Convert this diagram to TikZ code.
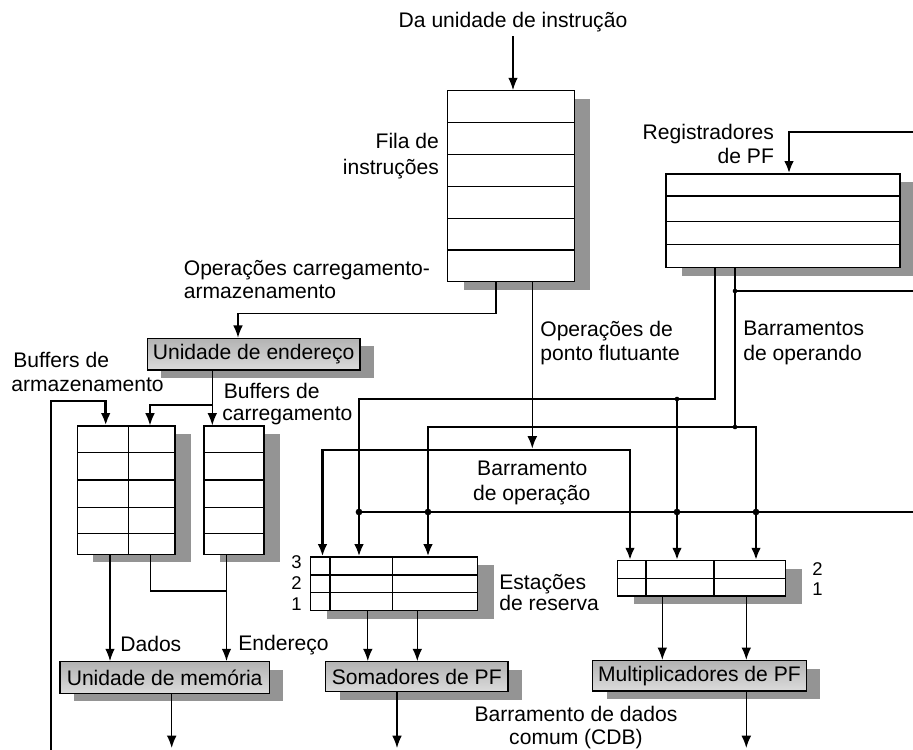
\documentclass[tikz,border=0pt]{standalone}
\usepackage{fontspec}
\setmainfont{Liberation Sans}
\usetikzlibrary{arrows.meta,shadows,fit}

\begin{document}
\begin{tikzpicture}[x=0.02cm, y=-0.02cm,
  font=\fontsize{12}{14}\selectfont,
  thin wire/.style={line width=0.75pt},
  bus wire/.style={line width=1.5pt},
  arrowed/.style={-{Latex[length=7pt,width=5.5pt]}},
  both tips/.style={{Latex[length=7pt,width=5.5pt]}-{Latex[length=7pt,width=5.5pt]}},
  small junction/.style={circle, fill=black, inner sep=0pt, minimum size=2.6pt},
  big junction/.style={circle, fill=black, inner sep=0pt, minimum size=3.8pt},
  regtable/.style={draw, line width=0.7pt, fill=white, inner sep=0pt,
    drop shadow={shadow xshift=0.32cm, shadow yshift=-0.16cm, fill=black!42, opacity=1}},
  unitbox/.style={draw, line width=0.7pt, inner sep=0pt, top color=black!30, bottom color=black!14,
    drop shadow={shadow xshift=0.28cm, shadow yshift=-0.16cm, fill=black!42, opacity=1}},
  rowline/.style={line width=0.7pt},
  txt/.style={inner sep=0pt},
  digit/.style={inner sep=0pt, font=\fontsize{10.5}{12}\selectfont},
]
\useasboundingbox (0,0) rectangle (913,750);

% ---------- storage tables ----------
% instruction queue
\node[regtable, fit={(447.7,90.7) (574.3,281.7)}] (iq) {};
\foreach \yy in {122.7,154.3,186.7,218.3,250}
  \draw[rowline] (447.7,\yy) -- (574.3,\yy);

% floating-point register file
\node[regtable, fit={(666,174) (900,267.7)}] (regs) {};
\foreach \yy in {196,221.3,244.3}
  \draw[rowline] (666,\yy) -- (900,\yy);

% store buffers (two fields)
\node[regtable, fit={(77.3,426) (175,554.3)}] (sb) {};
\draw[rowline] (128.3,426) -- (128.3,554.3);
\foreach \yy in {452.3,480,507.3,533.3}
  \draw[rowline] (77.3,\yy) -- (175,\yy);

% load buffers
\node[regtable, fit={(204,426) (264,554.3)}] (lb) {};
\foreach \yy in {452.3,480,507.3,533.3}
  \draw[rowline] (204,\yy) -- (264,\yy);

% reservation stations of the adders
\node[regtable, fit={(310.5,557) (477.7,610.5)}] (rsA) {};
\draw[rowline] (330,557) -- (330,610.5);
\draw[rowline] (392.5,557) -- (392.5,610.5);
\foreach \yy in {575,592.7}
  \draw[rowline] (310.5,\yy) -- (477.7,\yy);

% reservation stations of the multipliers
\node[regtable, fit={(617.7,560.7) (785.7,596)}] (rsM) {};
\draw[rowline] (646,560.7) -- (646,596);
\draw[rowline] (714,560.7) -- (714,596);
\draw[rowline] (617.7,578.7) -- (785.7,578.7);

% ---------- functional units ----------
\node[unitbox, minimum width=4.254cm, minimum height=0.634cm] (au) at (253.65,354.15) {Unidade de endereço};
\node[unitbox, minimum width=4.186cm, minimum height=0.632cm] (mem) at (164.65,677.5) {Unidade de memória};
\node[unitbox, minimum width=3.65cm, minimum height=0.596cm] (add) at (416.75,676.6) {Somadores de PF};
\node[unitbox, minimum width=4.272cm, minimum height=0.61cm] (mul) at (699.4,675.75) {Multiplicadores de PF};

% ---------- labels ----------
\node[txt, anchor=base] (title) at (513,28) {Da unidade de instrução};
\node[txt, anchor=base east] (fila1) at (439.3,149) {Fila de};
\node[txt, anchor=base east] (fila2) at (439.3,174.3) {instruções};
\node[txt, anchor=base east] (regl1) at (774.3,139) {Registradores};
\node[txt, anchor=base east] (regl2) at (774.3,164) {de PF};
\node[txt, anchor=base west] (ldst1) at (183.5,275) {Operações carregamento-};
\node[txt, anchor=base west] (ldst2) at (183.5,298.3) {armazenamento};
\node[txt, anchor=base west] (sbl1) at (13,367.3) {Buffers de};
\node[txt, anchor=base west] (sbl2) at (11,391.7) {armazenamento};
\node[txt, anchor=base west] (lbl1) at (223.5,398.3) {Buffers de};
\node[txt, anchor=base west] (lbl2) at (222,420) {carregamento};
\node[txt, anchor=base west] (fpop1) at (540,336) {Operações de};
\node[txt, anchor=base west] (fpop2) at (540,360.7) {ponto flutuante};
\node[txt, anchor=base west] (opnd1) at (743,335) {Barramentos};
\node[txt, anchor=base west] (opnd2) at (743,360) {de operando};
\node[txt, anchor=base] (opbl1) at (532.3,475) {Barramento};
\node[txt, anchor=base] (opbl2) at (531.7,500) {de operação};
\node[txt, anchor=base west] (rsl1) at (499,589.3) {Estações};
\node[txt, anchor=base west] (rsl2) at (499,610.5) {de reserva};
\node[digit, anchor=base east] (rsA3) at (302,568.3) {3};
\node[digit, anchor=base east] (rsA2) at (302,589) {2};
\node[digit, anchor=base east] (rsA1) at (302,610.5) {1};
\node[digit, anchor=base west] (rsM2) at (812,575) {2};
\node[digit, anchor=base west] (rsM1) at (812,595.5) {1};
\node[txt, anchor=base west] (datal) at (120,651.7) {Dados};
\node[txt, anchor=base west] (addrl) at (238,650) {Endereço};
\node[txt, anchor=base] (cdbl1) at (576,721) {Barramento de dados};
\node[txt, anchor=base] (cdbl2) at (576,744) {comum (CDB)};

% ---------- free ends of the wires (they leave the drawing) ----------
\coordinate (regIn) at (913,132);
\coordinate (cdbE) at (913,512);
\coordinate (opndE) at (913,291);
\coordinate (storeS) at (51,750);
\coordinate (memOut) at (171.7,748);
\coordinate (addOut) at (397,748);
\coordinate (mulOut) at (746.3,748);

% ---------- bus junctions ----------
\coordinate (opL) at (322.5,450);
\coordinate (opR) at (630,450);
\coordinate (r1j) at (677,399);
\coordinate (r2j) at (735,427);
\coordinate (r2e) at (735,291);
\coordinate (c1) at (359,512);
\coordinate (c2) at (428,512);
\coordinate (c3) at (677,512);
\coordinate (c4) at (756,512);

% ---------- thin wires ----------
\draw[thin wire, arrowed] (title.south) ++(0,3.5) -- (title.south |- iq.north);
\draw[thin wire, arrowed] (iq.south -| 496,0) -- (496,313.5) -| (au.north -| 238,0);
\draw[thin wire, arrowed] (iq.south -| 532.3,0) -- (532.3,448.5);
\draw[thin wire, arrowed] (au.south -| 212.3,0) -- (lb.north -| 212.3,0);
\draw[thin wire, arrowed] (212.3,405) -| (sb.north -| 150,0);
\draw[thin wire, arrowed] (sb.south -| 110,0) -- (mem.north -| 110,0);
\draw[thin wire] (sb.south -| 150.7,0) |- (226.5,591);
\draw[thin wire, arrowed] (lb.south -| 226.5,0) -- (mem.north -| 226.5,0);
\draw[thin wire, arrowed] (mem.south -| memOut) -- (memOut);
\draw[thin wire, arrowed] (rsA.south -| 367.8,0) -- (add.north -| 367.8,0);
\draw[thin wire, arrowed] (rsA.south -| 417.3,0) -- (add.north -| 417.3,0);
\draw[thin wire, arrowed] (add.south -| addOut) -- (addOut);
\draw[thin wire, arrowed] (rsM.south -| 662.3,0) -- (mul.north -| 662.3,0);
\draw[thin wire, arrowed] (rsM.south -| 746.3,0) -- (mul.north -| 746.3,0);
\draw[thin wire, arrowed] (mul.south -| mulOut) -- (mulOut);

% ---------- buses ----------
% operation bus
\draw[bus wire, both tips] (rsA.north -| opL) |- (opR) -- (rsM.north -| opR);
% operand buses from the register file
\draw[bus wire, arrowed] (regs.south -| 715,0) |- (359,399) -- (rsA.north -| 359,0);
\draw[bus wire, arrowed] (r1j) -- (rsM.north -| r1j);
\draw[bus wire] (regs.south -| r2j) -- (r2j);
\draw[bus wire] (r2e) -- (opndE);
\draw[bus wire, both tips] (rsA.north -| 428,0) |- (756,427) -- (rsM.north -| 756,0);
% common data bus
\draw[bus wire] (c1) -- (cdbE);
\draw[bus wire, arrowed] (regIn) -| (regs.north -| 789,0);
\draw[bus wire, arrowed] (storeS) |- (105.7,401) -- (sb.north -| 105.7,0);

% junction dots
\foreach \p in {r1j,r2j,r2e}
  \node[small junction] at (\p) {};
\foreach \p in {c1,c2,c3,c4}
  \node[big junction] at (\p) {};
\end{tikzpicture}
\end{document}
